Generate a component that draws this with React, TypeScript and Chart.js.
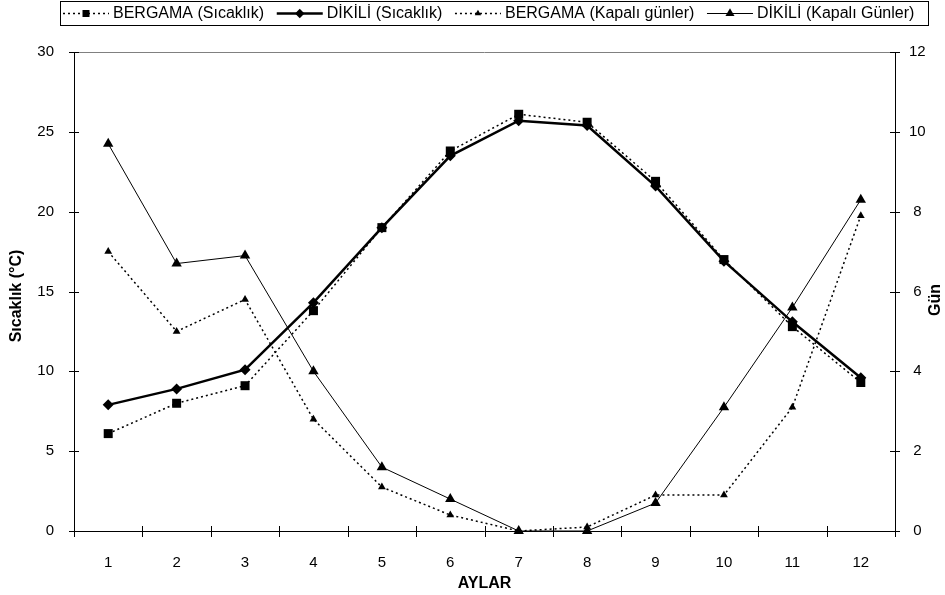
import React, { useEffect, useRef } from "react";
import { Chart, registerables } from "chart.js";

Chart.register(...registerables);

const months = ["1", "2", "3", "4", "5", "6", "7", "8", "9", "10", "11", "12"];
const bergamaTemp = [6.1, 8.0, 9.1, 13.8, 19.0, 23.8, 26.1, 25.6, 21.9, 17.0, 12.8, 9.3];
const dikiliTemp = [7.9, 8.9, 10.1, 14.3, 19.0, 23.5, 25.7, 25.4, 21.6, 16.9, 13.1, 9.6];
const bergamaCloudy = [7.0, 5.0, 5.8, 2.8, 1.1, 0.4, 0.0, 0.1, 0.9, 0.9, 3.1, 7.9];
const dikiliCloudy = [9.7, 6.7, 6.9, 4.0, 1.6, 0.8, 0.0, 0.0, 0.7, 3.1, 5.6, 8.3];
const tempTicks = [0, 5, 10, 15, 20, 25, 30];
const dayTicks = [0, 2, 4, 6, 8, 10, 12];
const legendLabels = [
  "BERGAMA (Sıcaklık)",
  "DİKİLİ (Sıcaklık)",
  "BERGAMA (Kapalı günler)",
  "DİKİLİ (Kapalı Günler)",
];
const xTitle = "AYLAR";
const yTitle = "Sıcaklık (°C)";
const y1Title = "Gün";

const FONT = "'Liberation Sans', Arial, sans-serif";

type Style = { dash: number[]; width: number; marker: string; r: number };
const styles: Style[] = [
  { dash: [2, 3], width: 1.5, marker: "rect", r: 4.5 },
  { dash: [], width: 2.5, marker: "rectRot", r: 5.5 },
  { dash: [2, 3], width: 1.5, marker: "triangle", r: 4.5 },
  { dash: [], width: 1, marker: "triangle", r: 6 },
];

function drawMarker(ctx: CanvasRenderingContext2D, kind: string, x: number, y: number, r: number) {
  ctx.beginPath();
  if (kind === "rect") {
    ctx.rect(x - r, y - r, 2 * r, 2 * r);
  } else if (kind === "rectRot") {
    ctx.moveTo(x - r, y);
    ctx.lineTo(x, y - r);
    ctx.lineTo(x + r, y);
    ctx.lineTo(x, y + r);
    ctx.closePath();
  } else {
    const h = r * 1.5;
    const w = r * Math.sqrt(3);
    ctx.moveTo(x, y - r);
    ctx.lineTo(x + w / 2, y - r + h);
    ctx.lineTo(x - w / 2, y - r + h);
    ctx.closePath();
  }
  ctx.fillStyle = "#000";
  ctx.fill();
}

const decorPlugin = {
  id: "decor",
  afterDraw(chart: any) {
    const ctx: CanvasRenderingContext2D = chart.ctx;
    const { left, right, top, bottom } = chart.chartArea;
    const sx = chart.scales.x;
    const sy = chart.scales.y;
    const sy1 = chart.scales.y1;
    ctx.save();
    // top frame line
    ctx.strokeStyle = "#808080";
    ctx.lineWidth = 1;
    ctx.beginPath();
    ctx.moveTo(left, Math.round(top) + 0.5);
    ctx.lineTo(right, Math.round(top) + 0.5);
    ctx.stroke();
    // axes
    ctx.strokeStyle = "#000";
    ctx.beginPath();
    ctx.moveTo(Math.round(left) + 0.5, top);
    ctx.lineTo(Math.round(left) + 0.5, bottom);
    ctx.moveTo(Math.round(right) + 0.5, top);
    ctx.lineTo(Math.round(right) + 0.5, bottom);
    ctx.moveTo(left - 5, Math.round(bottom) + 0.5);
    ctx.lineTo(right + 5, Math.round(bottom) + 0.5);
    ctx.stroke();
    // ticks
    ctx.beginPath();
    tempTicks.forEach((v) => {
      const y = Math.round(sy.getPixelForValue(v)) + 0.5;
      ctx.moveTo(left - 5, y);
      ctx.lineTo(left + 5, y);
    });
    dayTicks.forEach((v) => {
      const y = Math.round(sy1.getPixelForValue(v)) + 0.5;
      ctx.moveTo(right - 5, y);
      ctx.lineTo(right + 5, y);
    });
    const step = sx.getPixelForValue(1) - sx.getPixelForValue(0);
    for (let i = 0; i <= months.length; i++) {
      const x = Math.round(sx.getPixelForValue(0) - step / 2 + i * step) + 0.5;
      ctx.moveTo(x, bottom - 5);
      ctx.lineTo(x, bottom + 6);
    }
    ctx.stroke();

    // axis titles
    ctx.fillStyle = "#000";
    ctx.font = `bold 16px ${FONT}`;
    ctx.textAlign = "center";
    ctx.textBaseline = "middle";
    ctx.fillText(xTitle, (left + right) / 2, 584);
    ctx.save();
    ctx.translate(17, 296);
    ctx.rotate(-Math.PI / 2);
    ctx.fillText(yTitle, 0, 0);
    ctx.restore();
    ctx.save();
    ctx.translate(936, 300);
    ctx.rotate(-Math.PI / 2);
    ctx.fillText(y1Title, 0, 0);
    ctx.restore();

    // legend
    const boxL = 60, boxR = 928, boxT = 1.5, boxB = 25.5;
    ctx.lineWidth = 1;
    ctx.strokeStyle = "#000";
    ctx.strokeRect(boxL + 0.5, boxT, boxR - boxL, boxB - boxT);
    ctx.font = `16px ${FONT}`;
    const sampleW = 46;
    const widths = legendLabels.map((t) => ctx.measureText(t).width);
    const used = widths.reduce((a, b) => a + b, 0) + legendLabels.length * (sampleW + 5);
    const gap = (boxR - boxL - 4 - used) / (legendLabels.length);
    let x = boxL + 3;
    const cy = (boxT + boxB) / 2;
    legendLabels.forEach((t, i) => {
      const st = styles[i];
      ctx.save();
      ctx.lineWidth = st.width;
      ctx.setLineDash(st.dash);
      ctx.beginPath();
      ctx.moveTo(x, cy);
      ctx.lineTo(x + sampleW, cy);
      ctx.stroke();
      ctx.restore();
      drawMarker(ctx, st.marker, x + sampleW / 2, cy, st.marker === "rect" ? 3.5 : st.r - 0.8);
      ctx.fillStyle = "#000";
      ctx.textAlign = "left";
      ctx.textBaseline = "middle";
      ctx.fillText(t, x + sampleW + 4, cy + 0.5);
      x += sampleW + 5 + widths[i] + gap;
    });
    ctx.restore();
  },
};

export default function App() {
  const ref = useRef<HTMLCanvasElement | null>(null);
  useEffect(() => {
    document.body.style.margin = "0";
    const canvas = ref.current!;
    const mk = (label: string, data: number[], axis: string, st: Style) => ({
      label,
      data,
      yAxisID: axis,
      borderColor: "#000",
      backgroundColor: "#000",
      borderWidth: st.width,
      borderDash: st.dash,
      pointStyle: st.marker,
      pointRadius: st.marker === "rect" ? st.r * Math.SQRT2 : st.r,
      pointBorderWidth: 0,
      pointBackgroundColor: "#000",
      pointHoverRadius: st.r,
      tension: 0,
      clip: false,
      fill: false,
    });
    const chart = new Chart(canvas, {
      type: "line",
      data: {
        labels: months,
        datasets: [
          mk(legendLabels[0], bergamaTemp, "y", styles[0]),
          mk(legendLabels[1], dikiliTemp, "y", styles[1]),
          mk(legendLabels[2], bergamaCloudy, "y1", styles[2]),
          mk(legendLabels[3], dikiliCloudy, "y1", styles[3]),
        ] as any,
      },
      options: {
        responsive: false,
        animation: false,
        events: [],
        layout: { padding: { top: 52, left: 0, right: 0, bottom: 0 } },
        plugins: { legend: { display: false }, tooltip: { enabled: false } },
        scales: {
          x: {
            type: "category",
            offset: true,
            grid: { display: false },
            border: { display: false },
            ticks: { color: "#000", font: { family: FONT, size: 15 }, padding: 15, maxRotation: 0 },
            afterFit: (s: any) => { s.height = 64; },
          },
          y: {
            position: "left",
            min: 0,
            max: 30,
            grid: { display: false },
            border: { display: false },
            ticks: { stepSize: 5, color: "#000", font: { family: FONT, size: 15 }, padding: 12 },
            afterFit: (s: any) => { s.width = 74; },
          },
          y1: {
            position: "right",
            min: 0,
            max: 12,
            grid: { display: false },
            border: { display: false },
            ticks: { stepSize: 2, color: "#000", font: { family: FONT, size: 15 }, padding: 6, crossAlign: "center" },
            afterFit: (s: any) => { s.width = 50; },
          },
        },
      } as any,
      plugins: [decorPlugin],
    });
    return () => chart.destroy();
  }, []);
  return (
    <div style={{ position: "absolute", left: 0, top: 0, width: 945, height: 595, background: "#fff" }}>
      <canvas ref={ref} width={945} height={595} style={{ display: "block" }} />
    </div>
  );
}
